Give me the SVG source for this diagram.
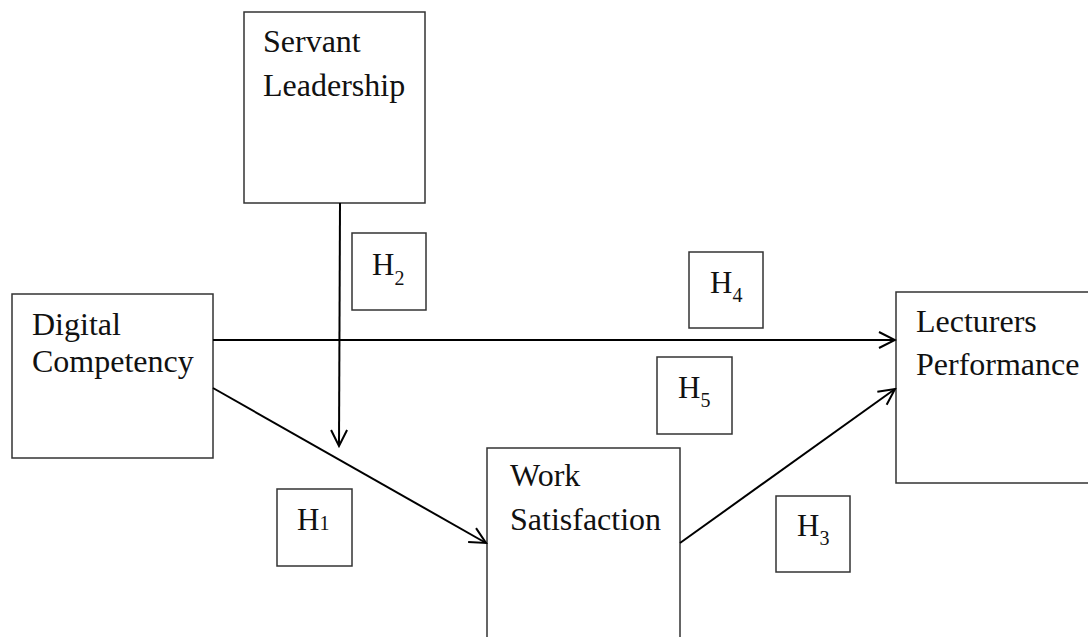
<svg xmlns="http://www.w3.org/2000/svg" width="1088" height="637" viewBox="0 0 1088 637">
<defs>
<style>
.box{fill:#fff;stroke:#333;stroke-width:1.5}
.lbl{font-family:"Liberation Serif",serif;font-size:32px;fill:#111}
.h{font-family:"Liberation Serif",serif;font-size:31px;fill:#111}
.sub{font-size:20px}
.edge{stroke:#000;stroke-width:2;fill:none;marker-end:url(#arr)}
</style>
<marker id="arr" markerUnits="userSpaceOnUse" markerWidth="20" markerHeight="20" viewBox="0 0 20 20" refX="18" refY="10" orient="auto">
<path d="M2,2 L18,10 L2,18" fill="none" stroke="#000" stroke-width="2"/>
</marker>
</defs>
<rect width="1088" height="637" fill="#fff"/>
<g id="servant">
<rect class="box" x="244" y="12" width="181" height="191"/>
<text class="lbl" x="263" y="52">Servant</text>
<text class="lbl" x="263" y="96">Leadership</text>
</g>
<g id="digital">
<rect class="box" x="12" y="294" width="201" height="164"/>
<text class="lbl" x="32" y="335">Digital</text>
<text class="lbl" x="32" y="372">Competency</text>
</g>
<g id="work">
<rect class="box" x="487" y="448" width="193" height="200"/>
<text class="lbl" x="510" y="486">Work</text>
<text class="lbl" x="510" y="530">Satisfaction</text>
</g>
<g id="lecturers">
<rect class="box" x="896" y="292" width="200" height="191"/>
<text class="lbl" x="916" y="332">Lecturers</text>
<text class="lbl" x="916" y="375">Performance</text>
</g>
<g id="connectors">
<line class="edge" x1="213" y1="340" x2="895" y2="340"/>
<line class="edge" x1="213" y1="388" x2="486" y2="543"/>
<line class="edge" x1="340" y1="203" x2="339" y2="446"/>
<line class="edge" x1="680" y1="543" x2="895" y2="389"/>
</g>
<g id="h2">
<rect class="box" x="352" y="233" width="74" height="77"/>
<text class="h" x="372" y="275">H<tspan class="sub" dy="10">2</tspan></text>
</g>
<g id="h4">
<rect class="box" x="689" y="252" width="74" height="76"/>
<text class="h" x="710" y="293">H<tspan class="sub" dy="9">4</tspan></text>
</g>
<g id="h5">
<rect class="box" x="657" y="357" width="75" height="77"/>
<text class="h" x="678" y="398">H<tspan class="sub" dy="9">5</tspan></text>
</g>
<g id="h1">
<rect class="box" x="277" y="489" width="75" height="77"/>
<text class="h" x="297" y="530">H<tspan class="sub">1</tspan></text>
</g>
<g id="h3">
<rect class="box" x="776" y="496" width="74" height="76"/>
<text class="h" x="797" y="536">H<tspan class="sub" dy="9">3</tspan></text>
</g>
</svg>
